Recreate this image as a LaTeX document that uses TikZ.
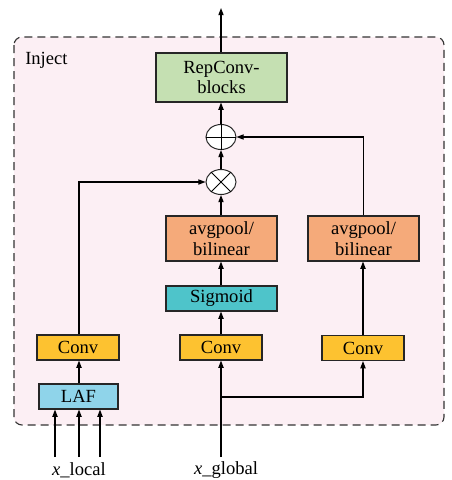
\documentclass[tikz,border=0pt]{standalone}
\usepackage{fontspec}
\setmainfont{Liberation Serif}
\newfontfamily\diagfont{Liberation Serif}
\usepackage{xcolor}
\usetikzlibrary{positioning, arrows.meta, shapes.geometric, calc}

\definecolor{injbg}{RGB}{252,239,244}
\definecolor{repgreen}{RGB}{197,224,178}
\definecolor{poolorange}{RGB}{245,170,122}
\definecolor{sigteal}{RGB}{78,196,202}
\definecolor{convgold}{RGB}{253,194,48}
\definecolor{lafblue}{RGB}{143,212,234}

\begin{document}
\begin{tikzpicture}[
    x=0.25mm, y=-0.25mm,
    box/.style={rectangle, draw=black!85, line width=0.8pt, inner sep=0pt, align=center, font=\diagfont\fontsize{13.2}{14.6}\selectfont},
    wbox/.style={box, minimum width=27.75mm, minimum height=11.25mm},
    cbox/.style={box, minimum width=20.5mm, minimum height=6.25mm},
    op/.style={ellipse, draw=black!85, line width=0.7pt, fill=white, minimum width=7.5mm, minimum height=6.25mm, inner sep=0pt},
    arrow/.style={-{Triangle[length=1.8mm, width=1.3mm]}, line width=0.8pt},
    lbl/.style={font=\diagfont\fontsize{13.2}{14.6}\selectfont, inner sep=0pt}
]
\useasboundingbox (0,0) rectangle (451,480);

% Inject frame
\draw[fill=injbg, draw=black!80, line width=0.8pt, dash pattern=on 2mm off 1.25mm, rounded corners=2mm] (14,37) rectangle (444,425);
\node[lbl, anchor=west] (inj) at (25,60) {Inject};

% blocks
\node[box, fill=repgreen, minimum width=32.75mm, minimum height=12.25mm] (rep) at (221.5,77.5) {RepConv-\\blocks};
\node[op] (add) at (221,137) {};
\node[op] (mul) at (221,182) {};
\draw[line width=0.6pt] (add.north) -- (add.south) (add.west) -- (add.east);
\draw[line width=0.6pt] (mul.45) -- (mul.225) (mul.135) -- (mul.315);

\node[wbox, fill=poolorange] (poolm) at (221.5,238.5) {avgpool/\\bilinear};
\node[wbox, fill=poolorange] (poolr) at (363.5,238.5) {avgpool/\\bilinear};
\node[box, fill=sigteal, minimum width=27.75mm, minimum height=6.25mm] (sig) at (221.5,298.5) {Sigmoid};

\node[cbox, fill=convgold] (convl) at (78,347.5) {Conv};
\node[cbox, fill=convgold] (convm) at (221,347.5) {Conv};
\node[cbox, fill=convgold] (convr) at (363,348) {Conv};
\node[box, fill=lafblue, minimum width=19.75mm, minimum height=6.25mm] (laf) at (78.5,396.5) {LAF};

% inputs
\node[lbl] (xl) at (79,470) {\textit{x}\_local};
\node[lbl] (xg) at (226,470) {\textit{x}\_global};
\coordinate (out) at (221,8);
\coordinate (in1) at (55,457);
\coordinate (in2) at (79,457);
\coordinate (in3) at (100,457);
\coordinate (ing) at (221,457);
\coordinate (split) at (221,397);

% connections
\draw[arrow] (rep.north -| out) -- (out);
\draw[arrow] (add) -- (add |- rep.south);
\draw[arrow] (mul) -- (add);
\draw[arrow] (poolm.north -| mul) -- (mul);
\draw[arrow] (poolr.north) |- (add.east);
\draw[arrow] (convl.north -| in2) |- (mul.west);
\draw[arrow] (sig.north -| mul) -- (poolm.south -| mul);
\draw[arrow] (convm.north) -- (sig.south -| convm);
\draw[arrow] (convr.north) -- (poolr.south -| convr);
\draw[arrow] (laf.north -| in2) -- (convl.south -| in2);
\draw[arrow] (in1) -- (laf.south -| in1);
\draw[arrow] (in2) -- (laf.south -| in2);
\draw[arrow] (in3) -- (laf.south -| in3);
\draw[arrow] (ing) -- (convm.south);
\draw[arrow] (split) -| (convr.south);

\end{tikzpicture}
\end{document}
